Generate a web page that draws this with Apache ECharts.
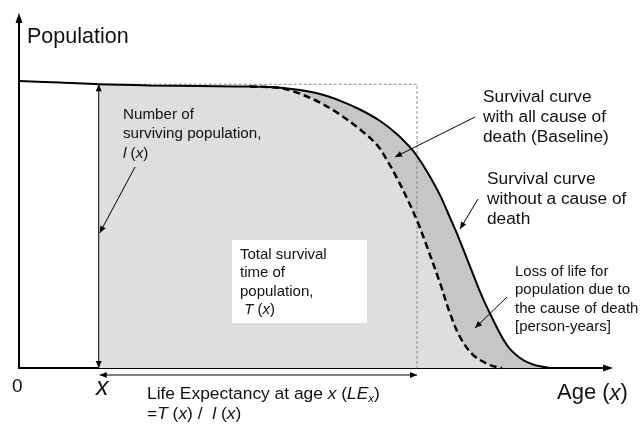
<!DOCTYPE html>
<html><head><meta charset="utf-8">
<script src="https://cdn.jsdelivr.net/npm/echarts@6/dist/echarts.min.js"></script>
<style>html,body{margin:0;padding:0;background:#fff}#c{width:640px;height:425px}</style>
</head><body><div id="c"></div>
<script>
// Schematic axes: age (years) and population (% of initial cohort)
const ageRange = [0, 99];
const popRange = [0, 122];

// Survival curve without a cause of death (solid line)
const solidAge = [0, 6.9, 13.4, 22.0, 30.4, 38.8, 43.9, 47.2, 50.6, 53.9, 57.3, 60.7, 63.5, 65.7, 66.9, 68.6, 70.8, 72.4, 73.8, 76.0, 77.5, 79.2, 82.0, 84.2, 86.4, 89.2];
const solidPop = [100, 99.5, 98.9, 98.5, 98.3, 98.1, 97.7, 96.9, 95.5, 93.2, 90.1, 86.1, 81.6, 77.0, 73.9, 68.4, 60.1, 52.6, 45.9, 34.4, 26.5, 18.8, 8.0, 3.5, 1.2, 0];

// Survival curve with all causes of death (baseline, dashed line)
const baseAge = [38.8, 43.9, 47.2, 50.6, 53.9, 57.3, 60.2, 62.0, 63.5, 65.2, 66.9, 68.2, 70.8, 72.4, 74.1, 76.3, 79.2, 81.2];
const basePop = [98.1, 97.6, 95.6, 92.5, 88.4, 83.2, 77.7, 71.9, 66.3, 59.2, 51.4, 44.4, 29.4, 19.3, 10.9, 4.6, 1.0, 0];

// Age x, surviving population l(x) and life expectancy LE_x
const ageX = 13.4;
const lX = 98.9;
const lifeExp = 53.5;

const FF = '"Liberation Sans", Arial, Helvetica, sans-serif';
const solidPts = solidAge.map((a, i) => [a, solidPop[i]]);
const basePts = baseAge.map((a, i) => [a, basePop[i]]);
const darkFill = solidPts.filter(p => p[0] >= ageX);
const lightFill = solidPts.filter(p => p[0] >= ageX && p[0] < baseAge[0]).concat(basePts);
const rectPts = [[ageX, lX], [ageX + lifeExp, lX], [ageX + lifeExp, 0]];

const chart = echarts.init(document.getElementById('c'), null, {renderer: 'canvas'});
const axisCommon = {
  type: 'value',
  axisLine: {show: true, symbol: ['none', 'triangle'], symbolSize: [7, 10], lineStyle: {color: '#000', width: 2}},
  axisTick: {show: false}, axisLabel: {show: false}, splitLine: {show: false}
};
const SM = 0.35;
chart.setOption({
  animation: false,
  backgroundColor: '#fff',
  grid: {left: 19, right: 32, top: 18, bottom: 57},
  xAxis: Object.assign({min: ageRange[0], max: ageRange[1]}, axisCommon),
  yAxis: Object.assign({min: popRange[0], max: popRange[1]}, axisCommon),
  series: [
    {type: 'line', data: darkFill, smooth: SM, showSymbol: false, silent: true, z: 1,
     lineStyle: {width: 0}, areaStyle: {color: '#c6c6c6', opacity: 1}},
    {type: 'line', data: lightFill, smooth: SM, showSymbol: false, silent: true, z: 2,
     lineStyle: {width: 0}, areaStyle: {color: '#dedede', opacity: 1}},
    {type: 'line', data: rectPts, smooth: false, showSymbol: false, silent: true, z: 3,
     lineStyle: {width: 1, color: '#8c8c8c', type: [3, 2]}},
    {type: 'line', data: basePts, smooth: SM, showSymbol: false, silent: true, z: 4,
     lineStyle: {width: 2.5, color: '#000', type: [7, 4]}},
    {type: 'line', data: solidPts, smooth: SM, showSymbol: false, silent: true, z: 5,
     lineStyle: {width: 2, color: '#000'}}
  ]
});

function px(a, p) { return chart.convertToPixel({gridIndex: 0}, [a, p]); }
function head(tip, from, len, hw) {
  len = len || 7; hw = hw || 3;
  const dx = tip[0] - from[0], dy = tip[1] - from[1];
  const d = Math.hypot(dx, dy), ux = dx / d, uy = dy / d;
  const bx = tip[0] - ux * len, by = tip[1] - uy * len;
  return {type: 'polygon', silent: true, z: 100,
    shape: {points: [tip, [bx - uy * hw, by + ux * hw], [bx + uy * hw, by - ux * hw]]},
    style: {fill: '#000'}};
}
function arrow(p1, p2, both) {
  const els = [{type: 'line', silent: true, z: 100,
    shape: {x1: p1[0], y1: p1[1], x2: p2[0], y2: p2[1]}, style: {stroke: '#000', lineWidth: 1}},
    head(p2, p1)];
  if (both) els.push(head(p1, p2));
  return els;
}
function label(x, baseline, fs, lh, text, opts) {
  opts = opts || {};
  const base = {fontSize: fs, fontFamily: FF, lineHeight: lh, fill: '#111'};
  const rich = {
    i: Object.assign({}, base, {fontStyle: 'italic'}),
    t: Object.assign({}, base),
    s: Object.assign({}, base, {fontStyle: 'italic', fontSize: fs * 0.65, lineHeight: 10, verticalAlign: 'bottom'})
  };
  return {type: 'text', silent: true, z: 110,
    style: Object.assign({x: x, y: baseline - 0.3465 * fs - lh / 2, text: text, rich: rich,
      verticalAlign: 'top', align: 'left'}, base, opts)};
}

const pB = px(ageX, 0), pT = px(ageX, lX);
const pE = px(ageX + lifeExp, 0);
const g = [];
g.push.apply(g, arrow(pB, pT, true));
g.push.apply(g, arrow([pB[0] + 1, pB[1] + 7], [pE[0], pE[1] + 7], true));
g.push.apply(g, arrow([135, 167], [pB[0] + 1, 233]));
g.push.apply(g, arrow([475, 117], [395, 157]));
g.push.apply(g, arrow([478, 199], [460, 229]));
g.push.apply(g, arrow([507, 297], [475, 328]));
g.push({type: 'rect', silent: true, z: 105, shape: {x: 232, y: 240, width: 135, height: 83}, style: {fill: '#fff'}});
g.push(label(27, 45, 21.5, 26, 'Population'));
g.push(label(123, 120, 15.2, 19.5, 'Number of\nsurviving population,\n{i|l} ({i|x})'));
g.push(label(240, 260, 15, 18.5, 'Total survival\ntime of\npopulation,\n {i|T} ({i|x})'));
g.push(label(483, 103, 17.3, 20, 'Survival curve\nwith all cause of\ndeath (Baseline)'));
g.push(label(487, 185, 17.3, 20, 'Survival curve\nwithout a cause of\ndeath'));
g.push(label(515, 277, 15, 18.3, 'Loss of life for\npopulation due to\nthe cause of death\n[person-years]'));
g.push(label(147, 400, 17.4, 20, 'Life Expectancy at age {i|x} ({i|LE}{s|x})\n={i|T} ({i|x}) /  {i|l} ({i|x})'));
g.push(label(557, 401, 22, 26, 'Age ({i|x})'));
g.push(label(12, 393, 19, 22, '0'));
g.push(label(96, 397, 25, 28, 'x', {fontStyle: 'italic'}));
chart.setOption({graphic: g});
</script>
</body></html>
